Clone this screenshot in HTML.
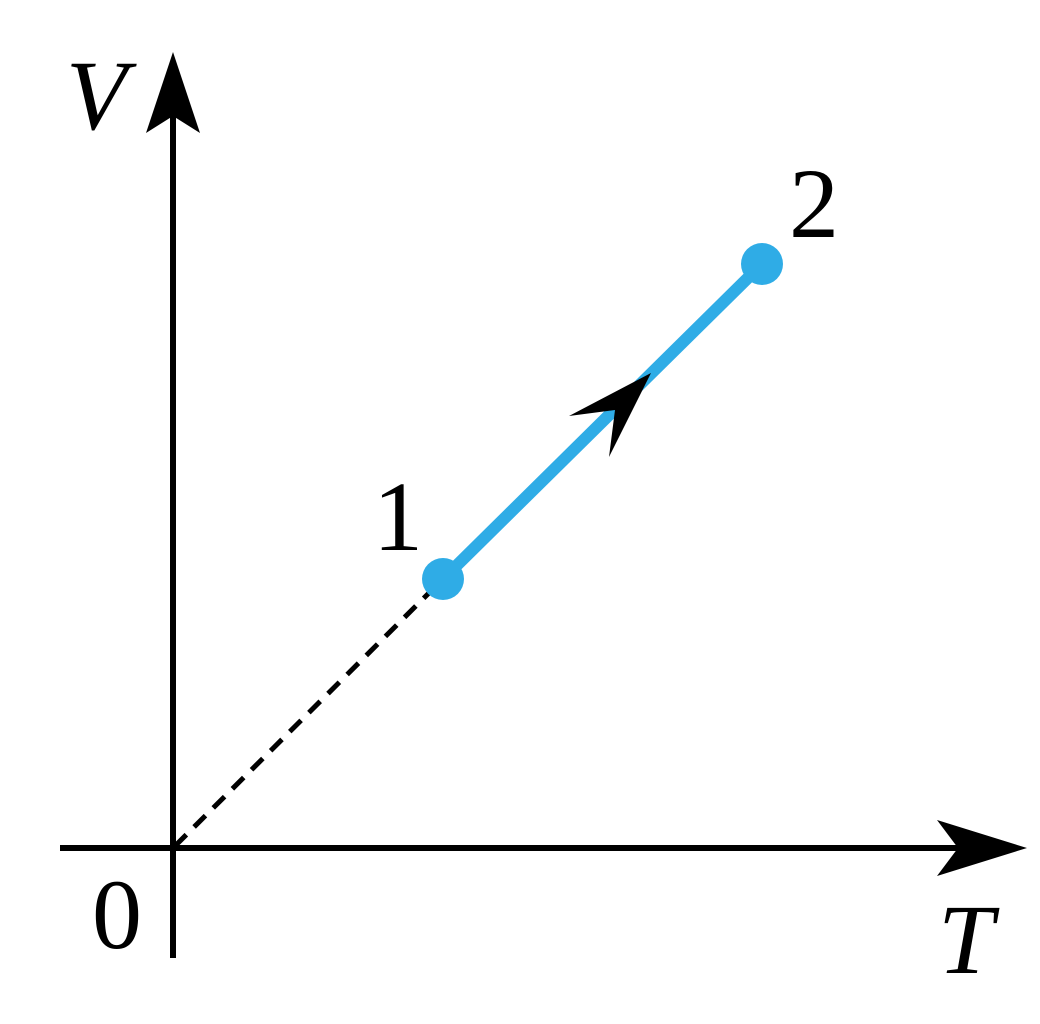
<!DOCTYPE html>
<html><head><style>html,body{margin:0;padding:0;background:#fff;}svg{display:block}</style></head>
<body>
<svg width="1040" height="1024" viewBox="0 0 1040 1024" xmlns="http://www.w3.org/2000/svg">
<line x1="173" y1="958" x2="173" y2="110" stroke="#000" stroke-width="6"/>
<polygon points="173,52 200,133 173,116 146,133" fill="#000"/>
<line x1="60" y1="848" x2="970" y2="848" stroke="#000" stroke-width="6"/>
<polygon points="1027,848 937,820 958,848 937,876" fill="#000"/>
<line x1="175" y1="846" x2="440" y2="582" stroke="#000" stroke-width="5" stroke-dasharray="16,11"/>
<line x1="443" y1="579" x2="762" y2="264" stroke="#2FACE6" stroke-width="12"/>
<circle cx="443" cy="579" r="21" fill="#2FACE6"/>
<circle cx="762" cy="264" r="21" fill="#2FACE6"/>
<polygon points="651,373 609,457 615,410 569,416" fill="#000"/>
<g font-family="Liberation Serif, serif" font-size="100" fill="#000">
<text x="66" y="129" font-style="italic">V</text>
<text x="789" y="237">2</text>
<text x="373" y="550">1</text>
<text x="92" y="948">0</text>
<text x="938" y="973" font-style="italic">T</text>
</g>
</svg>
</body></html>
